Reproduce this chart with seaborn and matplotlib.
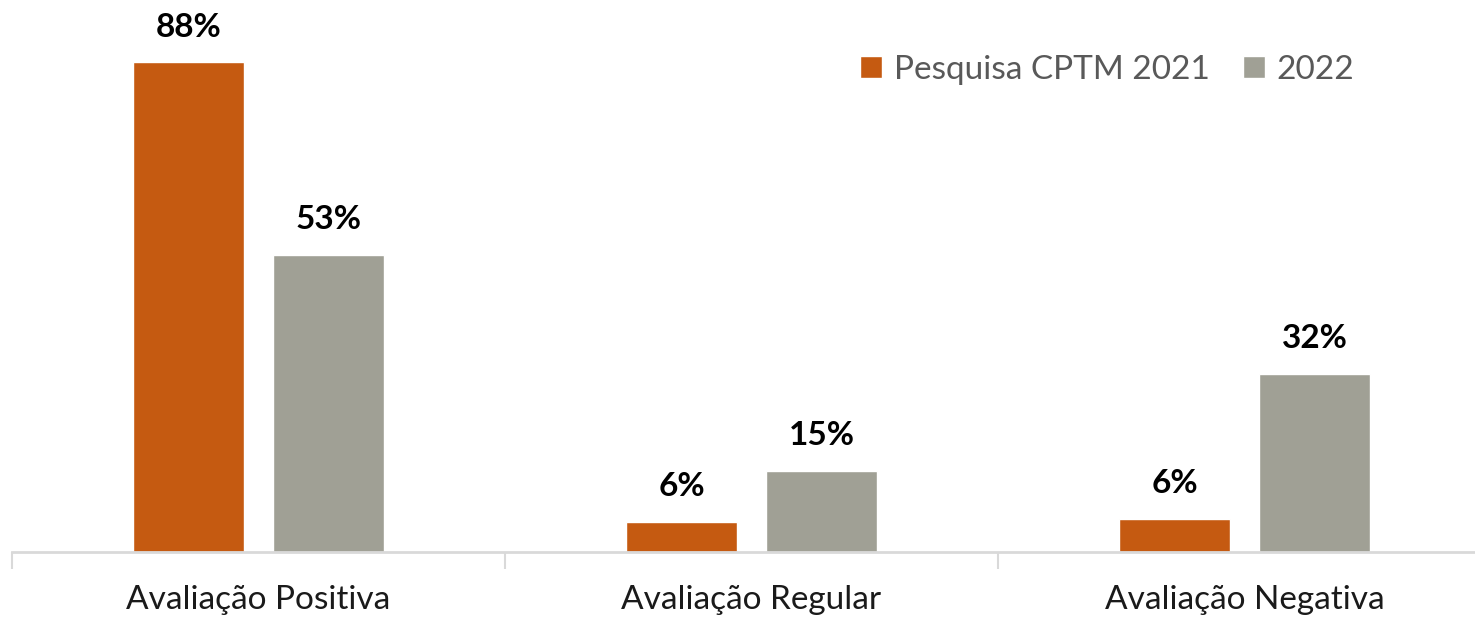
import matplotlib
matplotlib.use("Agg")
import matplotlib.pyplot as plt
import seaborn as sns
import pandas as pd

categories = ["Avaliação Positiva", "Avaliação Regular", "Avaliação Negativa"]
series_names = ["Pesquisa CPTM 2021", "2022"]
values_2021 = [87.9, 5.4, 5.9]
values_2022 = [53.3, 14.5, 32.0]
labels_2021 = ["88%", "6%", "6%"]
labels_2022 = ["53%", "15%", "32%"]
colors = ["#C55A11", "#A0A095"]

df = pd.DataFrame({
    "cat": categories * 2,
    "serie": [series_names[0]] * 3 + [series_names[1]] * 3,
    "val": values_2021 + values_2022,
})

sns.set_style("white")
plt.rcParams["font.family"] = ["Lato", "DejaVu Sans"]

fig = plt.figure(figsize=(14.75, 6.17), dpi=100)
ax = fig.add_axes([12 / 1475, 65 / 617, 1479 / 1475, 552 / 617])

sns.barplot(data=df, x="cat", y="val", hue="serie", palette=colors,
            width=0.568, gap=0.214, ax=ax, legend=True, saturation=1)

ax.set_ylim(0, 99.1)
ax.set_xlim(-0.5, 2.5)
ax.set_xlabel("")
ax.set_ylabel("")
ax.set_yticks([])

for cont, labs in zip(ax.containers, [labels_2021, labels_2022]):
    ax.bar_label(cont, labels=labs, padding=15, fontsize=24, fontweight="bold", color="black")

for s in ["top", "left", "right"]:
    ax.spines[s].set_visible(False)
ax.spines["bottom"].set_color("#D9D9D9")
ax.spines["bottom"].set_linewidth(2)

ax.set_xticks([0, 1, 2])
ax.set_xticklabels(categories, fontsize=24, color="#1a1a1a")
ax.tick_params(axis="x", which="major", length=0, pad=24, bottom=True)
ax.set_xticks([-0.5, 0.5, 1.5, 2.5], minor=True)
ax.tick_params(axis="x", which="minor", length=12, width=1.5, color="#D9D9D9",
               direction="out", bottom=True)

# legend anchored in figure coordinates
leg = fig.legend(*ax.get_legend_handles_labels(), loc="upper right",
                 bbox_to_anchor=(1384 / 1475, 1 - 25 / 617), ncol=2, frameon=False,
                 fontsize=24, handlelength=0.65, handleheight=0.65, handletextpad=0.35,
                 columnspacing=1.0, labelcolor="#595959")
ax.get_legend().remove()

fig.savefig("out.png", dpi=100)
